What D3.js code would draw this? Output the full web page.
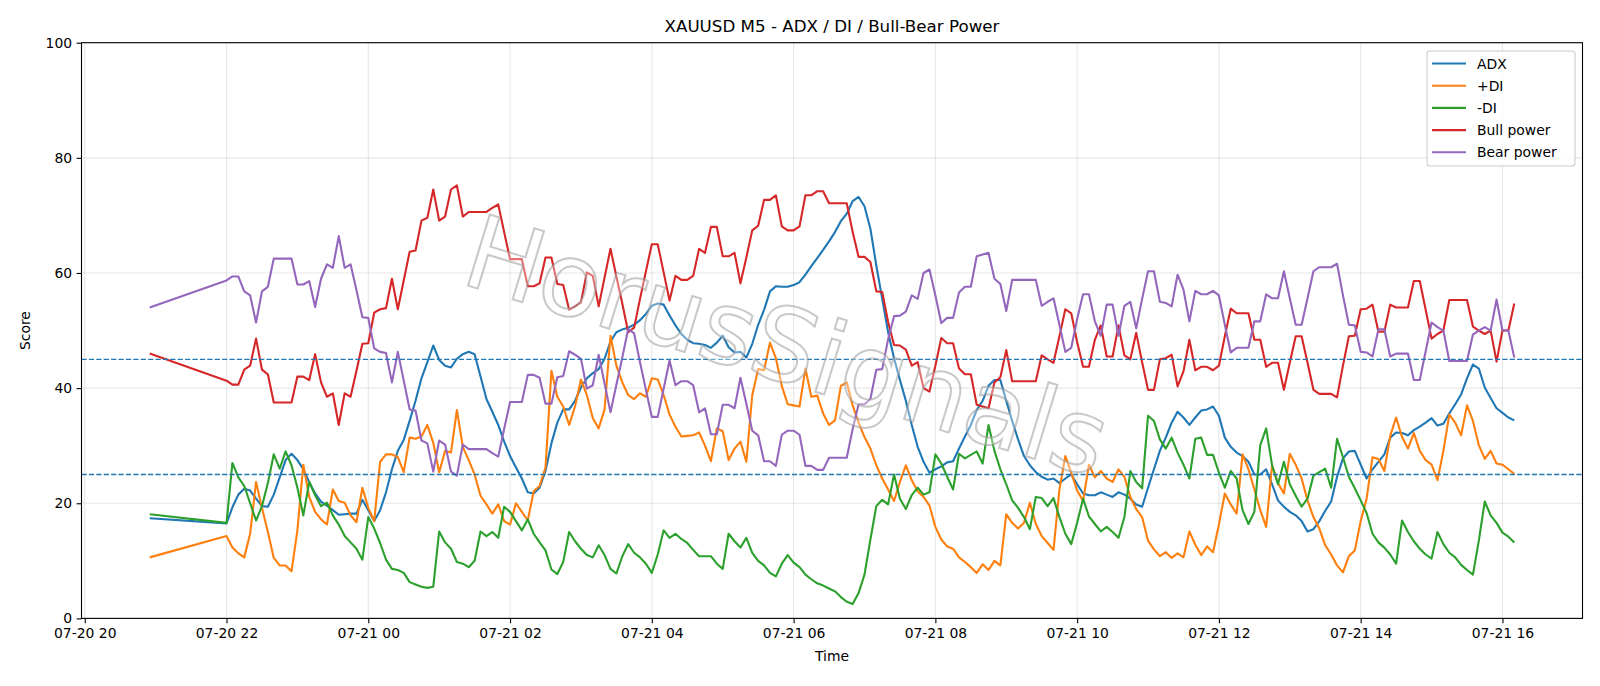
<!DOCTYPE html>
<html>
<head>
<meta charset="utf-8">
<script src="https://cdn.jsdelivr.net/npm/d3@7"></script>
<style>
  body { margin: 0; background: #fff; }
  svg { display: block; font-family: 'DejaVu Sans', sans-serif; }
</style>
</head>
<body>
<script>
const W = 1600, H = 686
const margin = { top: 42.7, right: 17.5, bottom: 67.6, left: 81.5 }

// first bar before the break, then the 5 minute session
const firstBar = '2025-07-20 20:55'
const sessionStart = '2025-07-20 22:00'

const seriesNames = ['ADX', '+DI', '-DI', 'Bull power', 'Bear power']
const colors = ['#1f77b4', '#ff7f0e', '#2ca02c', '#d62728', '#9467bd']
const levels = [25, 45]
const yTicks = [0, 20, 40, 60, 80, 100]

const adx = [17.4,
  16.5, 19.3, 21.5, 22.5, 22.2, 20.8, 19.5, 19.4, 21.5, 24.5, 27.5, 28.6,
  27.5, 25.9, 23.7, 21.7, 20.3, 19.6, 18.8, 18.0, 18.1, 18.2, 18.2, 20.6,
  18.8, 16.9, 18.8, 21.9, 25.9, 29.1, 31.0, 34.3, 37.8, 41.7, 44.5, 47.4,
  44.9, 43.9, 43.6, 45.1, 45.9, 46.3, 45.9, 42.0, 38.1, 35.9, 33.6, 30.7,
  28.2, 26.2, 24.3, 21.9, 21.7, 22.7, 25.6, 30.4, 34.0, 36.3, 36.3, 37.8,
  40.1, 41.7, 42.6, 43.3, 45.1, 48.1, 49.7, 50.2, 50.5, 51.0, 51.8, 52.9,
  54.3, 54.7, 54.5, 52.6, 50.9, 49.4, 48.4, 47.8, 47.7, 47.5, 47.0, 47.9,
  49.1, 47.1, 46.2, 46.3, 45.3, 47.7, 51.0, 53.6, 56.8, 57.7, 57.6, 57.6,
  57.9, 58.4, 59.7, 61.2, 62.6, 64.0, 65.5, 67.1, 69.0, 70.3, 72.5, 73.2,
  71.6, 67.7, 61.3, 55.5, 49.7, 45.2, 41.4, 37.8, 33.6, 29.8, 27.2, 25.3,
  25.9, 26.4, 27.1, 27.3, 29.5, 31.6, 33.6, 36.2, 37.8, 40.4, 41.4, 41.4,
  37.8, 34.3, 31.1, 28.2, 26.6, 25.4, 24.6, 24.1, 24.3, 23.5, 24.3, 25.0,
  23.3, 21.7, 21.4, 21.4, 21.9, 21.5, 21.1, 21.9, 21.5, 20.8, 19.8, 19.4,
  22.7, 25.9, 29.1, 31.4, 34.0, 35.9, 34.9, 33.6, 34.9, 36.1, 36.3, 36.8,
  35.2, 31.4, 29.8, 28.8, 28.2, 27.2, 25.0, 25.0, 25.9, 23.3, 20.5, 19.4,
  18.5, 17.9, 16.9, 15.1, 15.5, 16.9, 18.7, 20.3, 24.6, 27.8, 29.0, 29.1,
  26.7, 24.3, 25.9, 27.2, 28.5, 31.4, 32.3, 32.2, 31.8, 32.7, 33.3, 34.0,
  34.8, 33.5, 33.8, 35.6, 37.2, 38.9, 41.7, 44.1, 43.4, 40.1, 38.3, 36.5,
  35.7, 34.9, 34.4]

const plusDi = [10.6,
  14.3, 12.3, 11.3, 10.6, 14.7, 23.7, 19.2, 15.0, 10.5, 9.2, 9.2, 8.2,
  15.3, 26.7, 21.1, 18.5, 17.2, 16.3, 22.4, 20.4, 20.1, 17.9, 16.7, 22.7,
  19.2, 16.9, 27.2, 28.5, 28.5, 28.0, 25.4, 31.4, 31.2, 31.6, 33.6, 30.5,
  25.4, 29.1, 28.8, 36.2, 29.8, 27.5, 25.0, 21.3, 19.8, 18.2, 19.8, 16.9,
  16.3, 20.0, 18.5, 17.0, 22.1, 23.0, 26.2, 43.0, 38.5, 36.8, 33.6, 36.8,
  41.5, 38.8, 34.8, 33.0, 36.3, 49.1, 43.9, 41.0, 38.8, 38.1, 39.1, 38.5,
  41.7, 41.5, 38.8, 35.4, 33.3, 31.6, 31.7, 31.8, 32.3, 30.0, 27.3, 33.0,
  32.5, 27.5, 29.5, 30.7, 27.2, 38.8, 43.3, 43.1, 47.9, 45.2, 40.4, 37.2,
  37.0, 36.8, 43.4, 38.5, 38.7, 35.6, 33.6, 34.4, 40.4, 41.0, 37.0, 34.0,
  31.5, 29.5, 26.6, 24.3, 22.4, 20.4, 23.7, 26.6, 24.0, 22.1, 21.1, 19.6,
  15.9, 13.7, 12.5, 12.1, 10.6, 9.8, 8.9, 7.9, 9.4, 8.4, 10.0, 9.2,
  18.1, 16.6, 15.6, 16.6, 20.1, 16.4, 14.3, 13.1, 11.9, 22.4, 28.2, 25.3,
  22.2, 20.4, 26.7, 24.5, 25.6, 24.3, 23.7, 25.9, 24.6, 21.1, 19.0, 17.6,
  13.5, 12.0, 10.8, 11.5, 10.5, 11.3, 10.6, 15.1, 12.8, 11.0, 12.5, 11.5,
  16.3, 21.7, 19.8, 18.2, 28.5, 25.9, 22.4, 18.8, 15.9, 26.6, 23.5, 21.7,
  28.6, 26.7, 24.3, 20.5, 17.6, 15.6, 12.7, 11.1, 9.2, 8.0, 10.8, 11.8,
  16.9, 20.8, 28.0, 27.7, 25.6, 31.7, 34.9, 31.5, 29.5, 32.2, 29.1, 27.5,
  26.7, 24.0, 29.1, 35.4, 34.0, 31.8, 37.0, 34.3, 30.1, 27.7, 29.1, 26.9,
  26.7, 25.9, 25.1]

const minusDi = [18.1,
  16.6, 27.0, 24.5, 23.0, 20.0, 17.0, 19.5, 23.5, 28.5, 26.0, 29.0, 26.6,
  22.7, 17.9, 23.7, 21.4, 19.5, 20.1, 17.9, 16.3, 14.3, 13.2, 12.1, 10.2,
  17.6, 15.6, 13.1, 10.2, 8.6, 8.4, 7.9, 6.3, 5.9, 5.5, 5.3, 5.5,
  15.1, 13.2, 12.1, 9.8, 9.5, 8.9, 10.0, 15.1, 14.3, 15.0, 14.0, 19.4,
  18.5, 16.9, 15.3, 17.2, 14.7, 13.2, 11.8, 8.5, 7.7, 9.8, 15.0, 13.4,
  12.1, 11.0, 10.6, 12.7, 11.0, 8.6, 7.8, 10.8, 12.9, 11.4, 10.6, 9.5,
  7.9, 11.1, 15.3, 14.0, 14.7, 13.8, 13.1, 11.9, 10.8, 10.8, 10.8, 9.5,
  8.6, 14.7, 13.4, 12.3, 14.0, 11.4, 10.0, 9.2, 7.9, 7.3, 9.5, 11.0,
  9.7, 8.9, 7.6, 6.8, 6.1, 5.7, 5.2, 4.7, 3.7, 2.9, 2.5, 4.4,
  7.6, 13.7, 19.5, 20.6, 19.8, 25.0, 20.8, 19.0, 21.4, 22.7, 21.5, 21.9,
  28.5, 26.9, 24.6, 22.4, 28.6, 27.8, 28.4, 29.0, 26.9, 33.6, 29.1, 25.9,
  23.3, 20.5, 19.2, 17.6, 15.5, 21.1, 20.9, 19.5, 20.9, 17.6, 14.7, 12.9,
  16.6, 20.8, 17.7, 16.4, 15.1, 15.9, 15.0, 14.0, 17.6, 25.6, 23.7, 22.6,
  35.2, 34.3, 31.1, 29.5, 31.4, 28.8, 26.7, 24.3, 31.2, 31.4, 28.4, 28.4,
  25.3, 22.7, 25.6, 24.3, 18.8, 16.4, 18.5, 30.1, 33.0, 26.6, 23.3, 27.2,
  23.3, 21.3, 19.4, 20.8, 24.8, 25.4, 26.0, 22.7, 31.2, 28.0, 24.6, 22.6,
  20.5, 18.3, 14.7, 13.2, 12.3, 11.1, 9.5, 17.0, 15.0, 13.4, 12.1, 11.1,
  10.4, 15.0, 12.9, 11.4, 10.6, 9.3, 8.4, 7.6, 13.5, 20.3, 17.9, 16.6,
  14.9, 14.2, 13.2]

const bullPower = [46.0,
  41.3, 40.6, 40.6, 43.2, 43.9, 48.6, 43.2, 42.4, 37.5, 37.5, 37.5, 37.5,
  42.0, 42.0, 41.4, 45.9, 41.0, 38.5, 39.1, 33.6, 39.1, 38.5, 43.0, 47.7,
  47.8, 53.1, 53.7, 53.9, 59.0, 53.7, 58.7, 63.7, 63.9, 69.1, 69.6, 74.5,
  69.1, 69.8, 74.5, 75.2, 69.8, 70.6, 70.6, 70.6, 70.6, 71.3, 71.9, 67.1,
  62.4, 62.4, 62.4, 57.7, 57.7, 58.2, 62.7, 62.7, 58.1, 57.9, 53.6, 54.2,
  54.9, 60.1, 59.5, 54.2, 59.2, 64.2, 59.4, 54.7, 49.7, 50.5, 55.5, 60.3,
  65.0, 65.0, 60.1, 55.2, 59.5, 58.8, 58.8, 59.5, 64.2, 63.5, 68.0, 68.0,
  62.9, 62.9, 63.5, 58.2, 62.7, 67.4, 68.2, 72.7, 72.7, 73.5, 68.1, 67.4,
  67.4, 68.1, 73.5, 73.5, 74.2, 74.2, 72.1, 72.1, 72.1, 72.1, 67.1, 62.8,
  62.8, 61.9, 56.8, 56.7, 51.5, 47.5, 47.4, 46.7, 43.9, 44.5, 40.0, 39.4,
  43.9, 48.7, 47.8, 47.8, 43.4, 42.4, 42.4, 37.1, 36.8, 36.5, 41.0, 41.9,
  46.6, 41.2, 41.2, 41.2, 41.2, 41.2, 45.7, 45.0, 44.4, 49.0, 53.7, 53.0,
  48.0, 43.7, 43.7, 48.4, 50.9, 45.5, 45.5, 50.9, 45.7, 45.0, 49.6, 44.5,
  39.7, 39.7, 45.0, 45.2, 45.8, 40.3, 42.9, 48.4, 43.1, 43.7, 43.7, 43.1,
  43.9, 49.0, 53.8, 53.0, 53.0, 53.0, 48.4, 48.4, 43.7, 44.4, 44.4, 39.7,
  44.4, 49.0, 49.0, 44.4, 39.7, 39.0, 39.0, 39.0, 38.4, 43.9, 49.0, 49.1,
  53.7, 53.8, 54.5, 49.8, 49.8, 54.5, 54.0, 54.0, 54.0, 58.6, 58.6, 53.6,
  48.6, 49.4, 50.0, 55.3, 55.3, 55.3, 55.3, 50.7, 50.0, 49.4, 50.0, 44.6,
  50.0, 50.0, 54.7]

const bearPower = [54.0,
  58.7, 59.4, 59.4, 56.8, 56.1, 51.4, 56.8, 57.6, 62.5, 62.5, 62.5, 62.5,
  58.0, 58.0, 58.6, 54.1, 59.0, 61.5, 60.9, 66.4, 60.9, 61.5, 57.0, 52.3,
  52.2, 46.9, 46.3, 46.1, 41.0, 46.3, 41.3, 36.3, 36.1, 30.9, 30.4, 25.5,
  30.9, 30.2, 25.5, 24.8, 30.2, 29.4, 29.4, 29.4, 29.4, 28.7, 28.1, 32.9,
  37.6, 37.6, 37.6, 42.3, 42.3, 41.8, 37.3, 37.3, 41.9, 42.1, 46.4, 45.8,
  45.1, 39.9, 40.5, 45.8, 40.8, 35.8, 40.6, 45.3, 50.3, 49.5, 44.5, 39.7,
  35.0, 35.0, 39.9, 44.8, 40.5, 41.2, 41.2, 40.5, 35.8, 36.5, 32.0, 32.0,
  37.1, 37.1, 36.5, 41.8, 37.3, 32.6, 31.8, 27.3, 27.3, 26.5, 31.9, 32.6,
  32.6, 31.9, 26.5, 26.5, 25.8, 25.8, 27.9, 27.9, 27.9, 27.9, 32.9, 37.2,
  37.2, 38.1, 43.2, 43.3, 48.5, 52.5, 52.6, 53.3, 56.1, 55.5, 60.0, 60.6,
  56.1, 51.3, 52.2, 52.2, 56.6, 57.6, 57.6, 62.9, 63.2, 63.5, 59.0, 58.1,
  53.4, 58.8, 58.8, 58.8, 58.8, 58.8, 54.3, 55.0, 55.6, 51.0, 46.3, 47.0,
  52.0, 56.3, 56.3, 51.6, 49.1, 54.5, 54.5, 49.1, 54.3, 55.0, 50.4, 55.5,
  60.3, 60.3, 55.0, 54.8, 54.2, 59.7, 57.1, 51.6, 56.9, 56.3, 56.3, 56.9,
  56.1, 51.0, 46.2, 47.0, 47.0, 47.0, 51.6, 51.6, 56.3, 55.6, 55.6, 60.3,
  55.6, 51.0, 51.0, 55.6, 60.3, 61.0, 61.0, 61.0, 61.6, 56.1, 51.0, 50.9,
  46.3, 46.2, 45.5, 50.2, 50.2, 45.5, 46.0, 46.0, 46.0, 41.4, 41.4, 46.4,
  51.4, 50.6, 50.0, 44.7, 44.7, 44.7, 44.7, 49.3, 50.0, 50.6, 50.0, 55.4,
  50.0, 50.0, 45.3]

const seriesValues = [adx, plusDi, minusDi, bullPower, bearPower]

// timestamps
const parse = d3.timeParse('%Y-%m-%d %H:%M')
const times = [parse(firstBar)].concat(
  d3.range(adx.length - 1).map(i => d3.timeMinute.offset(parse(sessionStart), 5 * i)))

const svg = d3.select('body').append('svg')
  .attr('width', W)
  .attr('height', H)

// matplotlib style 5% x margins
const t0 = +times[0], t1 = +times[times.length - 1]
const pad = (t1 - t0) * 0.05
const xScale = d3.scaleTime()
  .domain([new Date(t0 - pad), new Date(t1 + pad)])
  .range([margin.left, W - margin.right])
const yScale = d3.scaleLinear()
  .domain([0, 100])
  .range([H - margin.bottom, margin.top])

const xTicks = xScale.ticks(d3.timeHour.every(2))

// grid
const grid = svg.append('g').attr('stroke', '#b0b0b0').attr('stroke-opacity', 0.3).attr('stroke-width', 1.1)
grid.selectAll('.gx').data(xTicks).enter().append('line')
  .attr('x1', d => xScale(d)).attr('x2', d => xScale(d))
  .attr('y1', margin.top).attr('y2', H - margin.bottom)
grid.selectAll('.gy').data(yTicks).enter().append('line')
  .attr('x1', margin.left).attr('x2', W - margin.right)
  .attr('y1', d => yScale(d)).attr('y2', d => yScale(d))

// series lines
const line = d3.line()
  .x((d, i) => xScale(times[i]))
  .y(d => yScale(d))

seriesValues.forEach((vals, k) => {
  svg.append('path')
    .datum(vals)
    .attr('d', line)
    .attr('fill', 'none')
    .attr('stroke', colors[k])
    .attr('stroke-width', 2.1)
    .attr('stroke-linejoin', 'round')
})

// threshold lines
svg.selectAll('.level').data(levels).enter().append('line')
  .attr('x1', margin.left).attr('x2', W - margin.right)
  .attr('y1', d => yScale(d)).attr('y2', d => yScale(d))
  .attr('stroke', '#1f77b4')
  .attr('stroke-width', 1.4)
  .attr('stroke-dasharray', '5.2,2.2')

// watermark
svg.append('text')
  .attr('transform', 'translate(787,346) rotate(17)')
  .attr('text-anchor', 'middle')
  .attr('dominant-baseline', 'central')
  .style('font-size', '102px')
  .style('fill', '#ffffff')
  .style('fill-opacity', 0.35)
  .style('stroke', '#9a9a9a')
  .style('stroke-opacity', 0.55)
  .style('stroke-width', 2)
  .text('HorusSignals')

// axes
const xAxis = svg.append('g')
  .attr('transform', 'translate(0,' + (H - margin.bottom) + ')')
  .call(d3.axisBottom(xScale).tickValues(xTicks).tickFormat(d3.timeFormat('%m-%d %H')).tickSize(4.9).tickPadding(4.5).tickSizeOuter(0))
const yAxis = svg.append('g')
  .attr('transform', 'translate(' + margin.left + ',0)')
  .call(d3.axisLeft(yScale).tickValues(yTicks).tickSize(4.9).tickPadding(4.5).tickSizeOuter(0))

svg.selectAll('.domain').remove()
svg.selectAll('.tick line').attr('stroke', '#000').attr('stroke-width', 1.1)
svg.selectAll('.tick text').attr('fill', '#000').style('font-size', '13.9px').style('font-family', 'DejaVu Sans')

// frame
svg.append('rect')
  .attr('x', margin.left).attr('y', margin.top)
  .attr('width', W - margin.left - margin.right)
  .attr('height', H - margin.top - margin.bottom)
  .attr('fill', 'none').attr('stroke', '#000').attr('stroke-width', 1.1)

// title and labels
svg.append('text')
  .attr('x', (margin.left + W - margin.right) / 2).attr('y', 32)
  .attr('text-anchor', 'middle')
  .style('font-size', '16.7px')
  .text('XAUUSD M5 - ADX / DI / Bull-Bear Power')
svg.append('text')
  .attr('x', (margin.left + W - margin.right) / 2).attr('y', 661)
  .attr('text-anchor', 'middle')
  .style('font-size', '13.9px')
  .text('Time')
svg.append('text')
  .attr('transform', 'translate(30,' + ((margin.top + H - margin.bottom) / 2) + ') rotate(-90)')
  .attr('text-anchor', 'middle')
  .style('font-size', '13.9px')
  .text('Score')

// legend
const legend = svg.append('g').attr('transform', 'translate(1427,51)')
legend.append('rect')
  .attr('width', 148).attr('height', 115).attr('rx', 3)
  .attr('fill', '#fff').attr('fill-opacity', 0.8)
  .attr('stroke', '#cccccc').attr('stroke-width', 1.1)
seriesNames.forEach((name, k) => {
  const ly = 12.5 + k * 22.2
  legend.append('line')
    .attr('x1', 5).attr('x2', 39).attr('y1', ly).attr('y2', ly)
    .attr('stroke', colors[k]).attr('stroke-width', 2.1)
  legend.append('text')
    .attr('x', 50).attr('y', ly + 5)
    .style('font-size', '13.9px')
    .text(name)
})
</script>
</body>
</html>
